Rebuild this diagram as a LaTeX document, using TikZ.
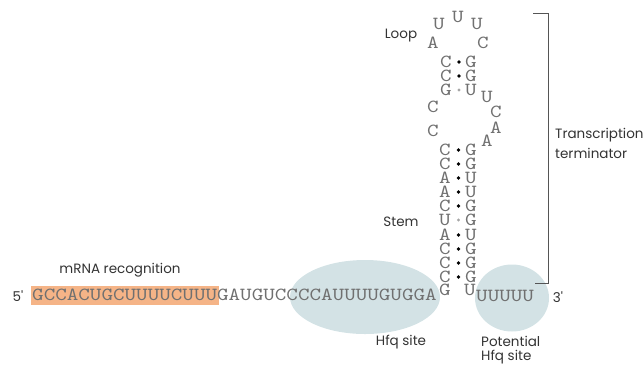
\documentclass[tikz,border=0pt]{standalone}
\usepackage{fontspec}
\usetikzlibrary{shapes.geometric}
\setmainfont{Poppins}
\newfontfamily\ntfont{lmmono10-regular.otf}[FakeStretch=1.19]
\definecolor{ntgray}{HTML}{707070}
\definecolor{labgray}{HTML}{333333}
\definecolor{hfq}{HTML}{D3E2E5}
\definecolor{hl}{HTML}{F5B487}
\definecolor{brk}{HTML}{555555}
\begin{document}
\begin{tikzpicture}[x=1pt,y=-1pt,
  nuc/.style={font=\ntfont\fontsize{18.5}{18.5}\selectfont, text=ntgray, inner sep=0pt},
  seq/.style={nuc, anchor=west},
  wc/.style={circle, fill=black, inner sep=0pt, minimum size=3.6pt},
  wob/.style={circle, fill=gray!70, inner sep=0pt, minimum size=3.2pt},
  lab/.style={font=\fontsize{13.5}{15}\selectfont, text=labgray, inner sep=0pt},
  site/.style={fill=hfq, draw=none}]
\useasboundingbox (0,0) rectangle (644,365);
% Hfq sites
\node[site, ellipse, minimum width=150pt, minimum height=74pt] (hfq1) at (365,297) {};
\node[site, ellipse, minimum width=74pt, minimum height=67pt] (hfq2) at (512,298) {};
% highlight
\node[fill=hl, minimum width=188pt, minimum height=19pt, inner sep=0pt, anchor=west] (hlbox) at (31,295.5) {};
% main sequence
\node[lab] (five) at (18,296) {5\textquotesingle};
\node[seq] (seqa) at (32,295) {GCCACUGCUUUUCUUUGAUGUCCCCAUUUUGUGGA};
\node[nuc] (g0) at (445,290) {G};
\node[nuc] (u0) at (470,290) {U};
\node[seq] (tail) at (476,296) {UUUUU};
\node[lab] (three) at (558,297) {3\textquotesingle};
% lower stem
\foreach \i/\y/\L/\R/\d in {1/150/C/G/wc, 2/164/C/G/wc, 3/178/A/U/wc, 4/192/A/U/wc, 5/206/C/G/wc, 6/220/U/G/wob, 7/235/A/U/wc, 8/249/C/G/wc, 9/263/C/G/wc, 10/277/C/G/wc}{
  \node[nuc] (sl\i) at (445,\y) {\L};
  \node[\d] (sd\i) at (458.5,\y) {};
  \node[nuc] (sr\i) at (471,\y) {\R};
}
% upper stem
\foreach \i/\y/\L/\R/\d in {1/62/C/G/wc, 2/76/C/G/wc, 3/90/G/U/wob}{
  \node[nuc] (ul\i) at (446,\y) {\L};
  \node[\d] (ud\i) at (459,\y) {};
  \node[nuc] (ur\i) at (471,\y) {\R};
}
% internal loop
\node[nuc] (il1) at (433,107) {C};
\node[nuc] (il2) at (433,131) {C};
\node[nuc] (ir1) at (487,97) {U};
\node[nuc] (ir2) at (496,112) {C};
\node[nuc] (ir3) at (496,128) {A};
\node[nuc] (ir4) at (487,141) {A};
% hairpin loop
\node[nuc] (lp1) at (433,43) {A};
\node[nuc] (lp2) at (439,24) {U};
\node[nuc] (lp3) at (458,17) {U};
\node[nuc] (lp4) at (477,24) {U};
\node[nuc] (lp5) at (483,43) {C};
% labels
\node[lab] (loop) at (401,36) {Loop};
\node[lab] (stem) at (401,222) {Stem};
\node[lab] (mrna) at (120,270) {mRNA recognition};
\node[lab] (hfqlab) at (401,342) {Hfq site};
\node[lab, anchor=west] (pot1) at (481,341) {Potential};
\node[lab, anchor=west] (pot2) at (481,357.5) {Hfq site};
\node[lab, anchor=west] (tt1) at (555,135) {Transcription};
\node[lab, anchor=west] (tt2) at (555,153) {terminator};
% bracket
\coordinate (b1) at (533,13);
\coordinate (b2) at (548,13);
\coordinate (b3) at (535,283);
\draw[brk, line width=1pt] (b1) -- (b2) |- (b3);
\end{tikzpicture}
\end{document}
